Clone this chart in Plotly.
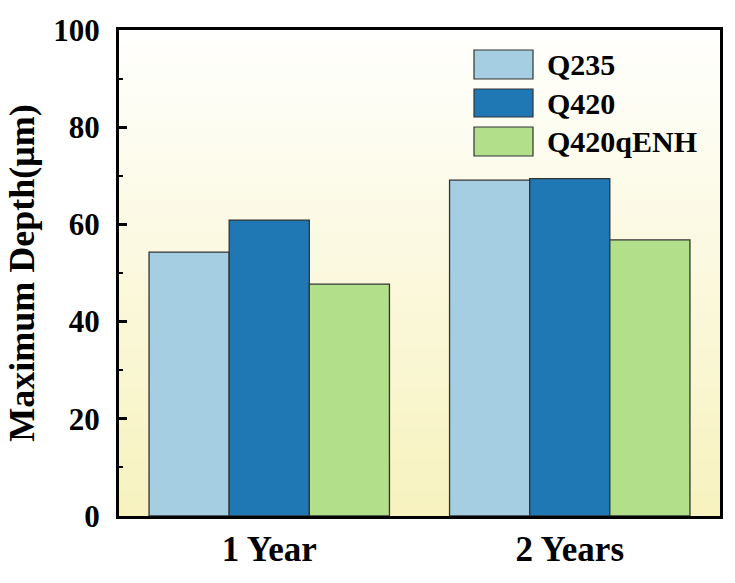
import plotly.graph_objects as go

categories = ["1 Year", "2 Years"]
series_names = ["Q235", "Q420", "Q420qENH"]
q235 = [54.3, 69.1]
q420 = [60.9, 69.4]
q420qenh = [47.7, 56.8]
colors = ["#a6cee3", "#1f78b4", "#b2df8a"]
y_ticks = [0, 20, 40, 60, 80, 100]

FONT = "Liberation Serif"

fig = go.Figure()
for name, vals, col in zip(series_names, [q235, q420, q420qenh], colors):
    fig.add_trace(go.Bar(
        x=categories, y=vals, name=name,
        marker=dict(color=col, line=dict(color="#333333", width=1.3)),
        showlegend=False,
    ))

# gradient background (style only)
top = (255, 255, 254)
bot = (247, 242, 190)
n = 60
shapes = []
for i in range(n):
    t = (i + 0.5) / n
    c = tuple(round(bot[k] + (top[k] - bot[k]) * t) for k in range(3))
    shapes.append(dict(type="rect", xref="x domain", yref="y domain",
                       x0=0, x1=1, y0=i / n, y1=(i + 1) / n + 0.002,
                       fillcolor="rgb(%d,%d,%d)" % c, line=dict(width=0),
                       layer="below"))

# manual legend
W, H = 601.0, 486.0
L, B = 119.0, 516.0
sw_x0, sw_x1 = 474, 533
sw_rows = [(50, 79), (89, 117), (127, 156)]
annotations = []
for name, col, (py0, py1) in zip(series_names, colors, sw_rows):
    shapes.append(dict(type="rect", xref="paper", yref="paper",
                       x0=(sw_x0 - L) / W, x1=(sw_x1 - L) / W,
                       y0=(B - py1) / H, y1=(B - py0) / H,
                       fillcolor=col, line=dict(color="#333333", width=1.2)))
    annotations.append(dict(xref="paper", yref="paper",
                            x=(545 - L) / W, y=(B - (py0 + py1) / 2) / H,
                            xanchor="left", yanchor="middle", showarrow=False,
                            text="<b>%s</b>" % name,
                            font=dict(family=FONT, size=30, color="black")))

fig.update_layout(
    width=735, height=583,
    margin=dict(l=119, r=15, t=30, b=67),
    paper_bgcolor="white",
    plot_bgcolor="rgba(0,0,0,0)",
    barmode="group", bargap=0.2, bargroupgap=0,
    shapes=shapes, annotations=annotations,
    font=dict(family=FONT, color="black"),
)
fig.update_xaxes(
    range=[-0.5, 1.5], showline=True, linecolor="black", linewidth=3,
    mirror=True, ticks="", showgrid=False, zeroline=False,
    tickfont=dict(family=FONT, size=35, color="black", weight="bold"),
)
fig.update_yaxes(
    range=[0, 100], tickvals=y_ticks, ticktext=["<b>%d</b>" % v for v in y_ticks],
    showline=True, linecolor="black", linewidth=3, mirror=True,
    ticks="inside", ticklen=8, tickwidth=3, tickcolor="black",
    minor=dict(ticks="inside", ticklen=4, tickwidth=2, tickcolor="black", dtick=10),
    showgrid=False, zeroline=False, ticklabelstandoff=10,
    tickfont=dict(family=FONT, size=31, color="black"),
    title=dict(text="<b>Maximum Depth(μm)</b>", font=dict(family=FONT, size=36, color="black"),
               standoff=8),
)

fig.write_html("out.html")
